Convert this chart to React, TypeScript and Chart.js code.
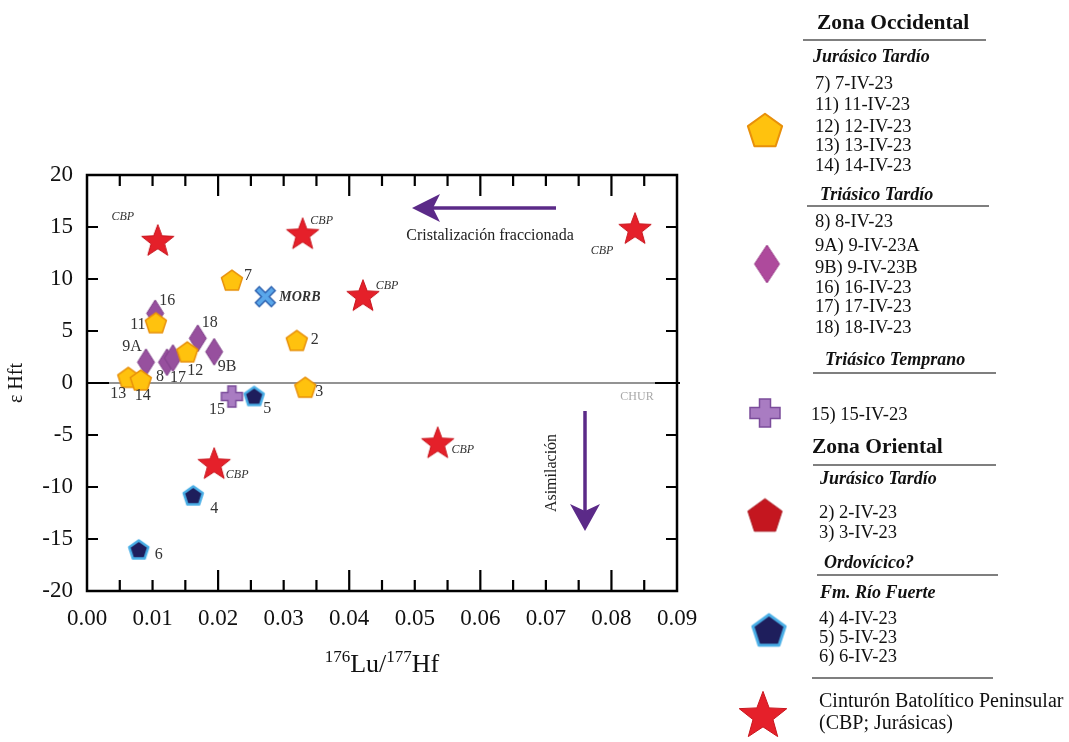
import { useEffect, useRef } from 'react';
import { Chart, registerables } from 'chart.js';

Chart.register(...registerables);

const FONT = "'Liberation Serif', 'Times New Roman', serif";

// ---------- DATA ----------
const jurOccLabels = ['7', '11', '12', '13', '14', '2', '3'];
const jurOccX = [0.0221, 0.0105, 0.0153, 0.0063, 0.0082, 0.0320, 0.0333];
const jurOccY = [9.9, 5.8, 3.0, 0.55, 0.3, 4.1, -0.4];

const triTarLabels = ['16', '9A', '8', '17', '18', '9B'];
const triTarX = [0.0104, 0.0090, 0.0122, 0.0131, 0.0169, 0.0194];
const triTarY = [6.7, 2.0, 2.0, 2.4, 4.3, 3.0];

const triTempLabels = ['15'];
const triTempX = [0.0221];
const triTempY = [-1.3];

const ordLabels = ['5', '4', '6'];
const ordX = [0.0255, 0.0162, 0.0079];
const ordY = [-1.25, -10.8, -16.0];

const cbpX = [0.0108, 0.0329, 0.0421, 0.0836, 0.0194, 0.0535];
const cbpY = [13.75, 14.4, 8.45, 14.9, -7.7, -5.7];

const morbX = [0.0272];
const morbY = [8.3];

const xMin = 0;
const xMax = 0.09;
const xStep = 0.01;
const yMin = -20;
const yMax = 20;
const yStep = 5;

// label placement (pixel offsets from the marker centre)
const labelOffsets: Record<string, [number, number]> = {
  '7': [16, -4], '11': [-18, 2], '12': [8, 19], '13': [-10, 17], '14': [2, 16],
  '2': [18, -1], '3': [14, 5], '16': [12, -13], '9A': [-14, -15], '8': [-7, 15],
  '17': [5, 20], '18': [12, -15], '9B': [13, 15], '15': [-15, 13], '5': [13, 13],
  '4': [21, 13], '6': [20, 5],
};
const cbpOffsets: [number, number][] = [[-35, -23], [19, -12], [24, -9], [-33, 23], [23, 12], [25, 8]];

// ---------- MARKERS ----------
function mk(w: number, h: number, draw: (ctx: CanvasRenderingContext2D, w: number, h: number) => void) {
  const c = document.createElement('canvas');
  c.width = w; c.height = h;
  const ctx = c.getContext('2d')!;
  draw(ctx, w, h);
  return c;
}
function pentagon(R: number, fill: string, stroke: string, lw: number) {
  const s = Math.ceil(2 * R + lw + 4);
  return mk(s, s, (ctx, w, h) => {
    const cx = w / 2, cy = h / 2 + 0.095 * R;
    ctx.beginPath();
    for (let i = 0; i < 5; i++) {
      const a = -Math.PI / 2 + (i * 2 * Math.PI) / 5;
      const x = cx + R * Math.cos(a), y = cy + R * Math.sin(a);
      if (i === 0) ctx.moveTo(x, y); else ctx.lineTo(x, y);
    }
    ctx.closePath();
    ctx.fillStyle = fill; ctx.fill();
    if (lw > 0) { ctx.lineWidth = lw; ctx.strokeStyle = stroke; ctx.lineJoin = 'round'; ctx.stroke(); }
  });
}
function star(R: number, fill: string, stroke: string) {
  const s = Math.ceil(2 * R + 4);
  return mk(s, s, (ctx, w, h) => {
    const cx = w / 2, cy = h / 2 + 0.095 * R;
    const r = R * 0.42;
    ctx.beginPath();
    for (let i = 0; i < 10; i++) {
      const a = -Math.PI / 2 + (i * Math.PI) / 5;
      const rr = i % 2 === 0 ? R : r;
      const x = cx + rr * Math.cos(a), y = cy + rr * Math.sin(a);
      if (i === 0) ctx.moveTo(x, y); else ctx.lineTo(x, y);
    }
    ctx.closePath();
    ctx.fillStyle = fill; ctx.fill();
    ctx.lineWidth = 1; ctx.strokeStyle = stroke; ctx.stroke();
  });
}
function diamond(dw: number, dh: number, fill: string, stroke: string) {
  return mk(dw + 4, dh + 4, (ctx, w, h) => {
    ctx.beginPath();
    ctx.moveTo(w / 2, 2); ctx.lineTo(w - 2, h / 2); ctx.lineTo(w / 2, h - 2); ctx.lineTo(2, h / 2);
    ctx.closePath();
    ctx.fillStyle = fill; ctx.fill();
    ctx.lineWidth = 1; ctx.strokeStyle = stroke; ctx.stroke();
  });
}
function plus(sw: number, sh: number, arm: number, fill: string, stroke: string) {
  return mk(sw + 4, sh + 4, (ctx, w, h) => {
    const cx = w / 2, cy = h / 2;
    const a = arm / 2;
    const hx = sw / 2, hy = sh / 2;
    ctx.beginPath();
    ctx.moveTo(cx - a, cy - hy); ctx.lineTo(cx + a, cy - hy); ctx.lineTo(cx + a, cy - a);
    ctx.lineTo(cx + hx, cy - a); ctx.lineTo(cx + hx, cy + a); ctx.lineTo(cx + a, cy + a);
    ctx.lineTo(cx + a, cy + hy); ctx.lineTo(cx - a, cy + hy); ctx.lineTo(cx - a, cy + a);
    ctx.lineTo(cx - hx, cy + a); ctx.lineTo(cx - hx, cy - a); ctx.lineTo(cx - a, cy - a);
    ctx.closePath();
    ctx.fillStyle = fill; ctx.fill();
    ctx.lineWidth = 1.5; ctx.strokeStyle = stroke; ctx.lineJoin = 'miter'; ctx.stroke();
  });
}
function xMark(size: number, fill: string, stroke: string) {
  return mk(size + 6, size + 6, (ctx, w, h) => {
    const cx = w / 2, cy = h / 2, r = size / 2;
    ctx.lineCap = 'butt';
    ctx.strokeStyle = stroke; ctx.lineWidth = 7;
    ctx.beginPath();
    ctx.moveTo(cx - r, cy - r); ctx.lineTo(cx + r, cy + r);
    ctx.moveTo(cx + r, cy - r); ctx.lineTo(cx - r, cy + r);
    ctx.stroke();
    ctx.strokeStyle = fill; ctx.lineWidth = 4;
    ctx.beginPath();
    ctx.moveTo(cx - r + 1, cy - r + 1); ctx.lineTo(cx + r - 1, cy + r - 1);
    ctx.moveTo(cx + r - 1, cy - r + 1); ctx.lineTo(cx - r + 1, cy + r - 1);
    ctx.stroke();
  });
}

const YEL_FILL = '#FFC20E';
const YEL_STROKE = '#E8900A';
const DIA_FILL = '#97509E';
const DIA_STROKE = '#7E3F88';
const CROSS_FILL = '#A97CC2';
const CROSS_STROKE = '#7B4C9B';
const NAVY_FILL = '#1E1E5C';
const NAVY_STROKE = '#49AEE6';
const STAR_FILL = '#E5202A';
const RED_PENT = '#C4161F';
const ARROW = '#5B2A88';

export default function App() {
  const ref = useRef<HTMLCanvasElement>(null);

  useEffect(() => {
    if (!ref.current) return;

    const mYel = pentagon(11, YEL_FILL, YEL_STROKE, 1.5);
    const mDia = diamond(17, 27, DIA_FILL, DIA_STROKE);
    const mCross = plus(21, 21, 8, CROSS_FILL, CROSS_STROKE);
    const mNavy = pentagon(10, NAVY_FILL, NAVY_STROKE, 2.5);
    const mStar = star(17, STAR_FILL, '#C8161E');
    const mMorb = xMark(17, '#5AA7EA', '#2F63B0');

    const lYel = pentagon(18, YEL_FILL, YEL_STROKE, 2);
    const lDia = diamond(25, 38, '#AE4A9C', '#9A3C8A');
    const lCross = plus(30, 28, 11, CROSS_FILL, CROSS_STROKE);
    const lRed = pentagon(18, RED_PENT, '#A8121A', 1);
    const lNavy = pentagon(17, NAVY_FILL, NAVY_STROKE, 3);
    const lStar = star(25, STAR_FILL, '#C8161E');

    const toPts = (xs: number[], ys: number[]) => xs.map((x, i) => ({ x, y: ys[i] }));

    const overlay = {
      id: 'overlay',
      beforeDatasetsDraw(chart: any) {
        const { ctx, chartArea: a, scales } = chart;
        const ys = scales.y;
        ctx.save();
        // CHUR line
        const y0 = ys.getPixelForValue(0);
        ctx.strokeStyle = '#6f6f6f';
        ctx.lineWidth = 1.6;
        ctx.beginPath(); ctx.moveTo(a.left, y0); ctx.lineTo(a.right, y0); ctx.stroke();
        ctx.fillStyle = '#a9a9a9';
        ctx.font = `12px ${FONT}`;
        ctx.textAlign = 'center'; ctx.textBaseline = 'middle';
        ctx.fillText('CHUR', a.right - 40, y0 + 14);

        // arrows
        ctx.strokeStyle = ARROW; ctx.fillStyle = ARROW; ctx.lineWidth = 3.5;
        const hy = 208;
        ctx.beginPath(); ctx.moveTo(556, hy); ctx.lineTo(432, hy); ctx.stroke();
        ctx.beginPath(); ctx.moveTo(412, hy); ctx.lineTo(440, hy - 14); ctx.lineTo(433, hy); ctx.lineTo(440, hy + 14); ctx.closePath(); ctx.fill();
        const vx = 585;
        ctx.beginPath(); ctx.moveTo(vx, 411); ctx.lineTo(vx, 512); ctx.stroke();
        ctx.beginPath(); ctx.moveTo(vx, 531); ctx.lineTo(vx - 15, 504); ctx.lineTo(vx, 511); ctx.lineTo(vx + 15, 504); ctx.closePath(); ctx.fill();

        ctx.fillStyle = '#222';
        ctx.font = `16px ${FONT}`;
        ctx.textAlign = 'center'; ctx.textBaseline = 'middle';
        ctx.fillText('Cristalización fraccionada', 490, 236);
        ctx.save();
        ctx.translate(552, 473); ctx.rotate(-Math.PI / 2);
        ctx.fillText('Asimilación', 0, 0);
        ctx.restore();
        ctx.restore();
      },
      afterDatasetsDraw(chart: any) {
        const { ctx, chartArea: a, scales } = chart;
        const xs = scales.x, ys = scales.y;
        ctx.save();
        // frame
        ctx.strokeStyle = '#000'; ctx.lineWidth = 2.5;
        ctx.strokeRect(a.left, a.top, a.right - a.left, a.bottom - a.top);
        // x tick marks (inside, top and bottom)
        ctx.lineWidth = 2.2;
        for (let k = 1; k < 18; k++) {
          const v = k * 0.005;
          const px = xs.getPixelForValue(v);
          const long = k % 4 === 0;
          const L = long ? 21 : 11;
          ctx.beginPath();
          ctx.moveTo(px, a.bottom); ctx.lineTo(px, a.bottom - L);
          ctx.moveTo(px, a.top); ctx.lineTo(px, a.top + L);
          ctx.stroke();
        }
        // y tick marks
        for (let v = yMin + yStep; v < yMax; v += yStep) {
          const py = ys.getPixelForValue(v);
          const L = v === 0 ? 22 : 11;
          ctx.beginPath();
          ctx.moveTo(a.left, py); ctx.lineTo(a.left + L, py);
          ctx.moveTo(a.right + (v === 0 ? 3 : 0), py); ctx.lineTo(a.right - L, py);
          ctx.stroke();
        }

        // point labels
        ctx.fillStyle = '#333';
        ctx.font = `16px ${FONT}`;
        ctx.textAlign = 'center'; ctx.textBaseline = 'middle';
        const put = (labels: string[], xv: number[], yv: number[]) => {
          labels.forEach((lb, i) => {
            const o = labelOffsets[lb];
            ctx.fillText(lb, xs.getPixelForValue(xv[i]) + o[0], ys.getPixelForValue(yv[i]) + o[1]);
          });
        };
        put(jurOccLabels, jurOccX, jurOccY);
        put(triTarLabels, triTarX, triTarY);
        put(triTempLabels, triTempX, triTempY);
        put(ordLabels, ordX, ordY);

        ctx.font = `italic 12px ${FONT}`;
        cbpX.forEach((xv, i) => {
          const o = cbpOffsets[i];
          ctx.fillText('CBP', xs.getPixelForValue(xv) + o[0], ys.getPixelForValue(cbpY[i]) + o[1]);
        });
        ctx.font = `bold italic 14px ${FONT}`;
        ctx.textAlign = 'left';
        ctx.fillText('MORB', xs.getPixelForValue(morbX[0]) + 14, ys.getPixelForValue(morbY[0]) + 1);

        // axis titles
        ctx.fillStyle = '#111';
        ctx.save();
        ctx.translate(17, (a.top + a.bottom) / 2);
        ctx.rotate(-Math.PI / 2);
        ctx.textAlign = 'center';
        ctx.font = `20px ${FONT}`;
        ctx.fillText('ε Hft', 0, 0);
        ctx.restore();

        // x title with superscripts
        const parts: [string, boolean][] = [['176', true], ['Lu/', false], ['177', true], ['Hf', false]];
        const big = `26px ${FONT}`, small = `17px ${FONT}`;
        let tw = 0;
        parts.forEach(([t, sup]) => { ctx.font = sup ? small : big; tw += ctx.measureText(t).width; });
        let cx = 382 - tw / 2;
        ctx.textAlign = 'left'; ctx.textBaseline = 'alphabetic';
        const base = 672;
        parts.forEach(([t, sup]) => {
          ctx.font = sup ? small : big;
          ctx.fillText(t, cx, sup ? base - 10 : base);
          cx += ctx.measureText(t).width;
        });

        // ---------- legend ----------
        ctx.fillStyle = '#111';
        ctx.textBaseline = 'middle';
        ctx.textAlign = 'left';
        const hdr = (t: string, x: number, y: number) => { ctx.font = `bold 21.5px ${FONT}`; ctx.fillText(t, x, y); };
        const sub = (t: string, x: number, y: number) => { ctx.font = `bold italic 18px ${FONT}`; ctx.fillText(t, x, y); };
        const item = (t: string, x: number, y: number, size = 18.5) => { ctx.font = `${size}px ${FONT}`; ctx.fillText(t, x, y); };
        const rule = (x1: number, x2: number, y: number) => {
          ctx.strokeStyle = '#555'; ctx.lineWidth = 1.5;
          ctx.beginPath(); ctx.moveTo(x1, y); ctx.lineTo(x2, y); ctx.stroke();
        };
        const icon = (c: HTMLCanvasElement, x: number, y: number) => ctx.drawImage(c, x - c.width / 2, y - c.height / 2);

        hdr('Zona Occidental', 817, 23);
        rule(803, 986, 40);
        sub('Jurásico Tardío', 813, 57);
        item('7) 7-IV-23', 815, 84);
        item('11) 11-IV-23', 815, 105);
        item('12) 12-IV-23', 815, 127);
        item('13) 13-IV-23', 815, 146);
        item('14) 14-IV-23', 815, 166);
        icon(lYel, 765, 130);

        sub('Triásico Tardío', 820, 195);
        rule(807, 989, 206);
        item('8) 8-IV-23', 815, 222);
        item('9A) 9-IV-23A', 815, 246);
        item('9B) 9-IV-23B', 815, 268);
        item('16) 16-IV-23', 815, 288);
        item('17) 17-IV-23', 815, 307);
        item('18) 18-IV-23', 815, 328);
        icon(lDia, 767, 264);

        sub('Triásico Temprano', 825, 360);
        rule(813, 996, 373);
        icon(lCross, 765, 413);
        item('15) 15-IV-23', 811, 415);

        hdr('Zona Oriental', 812, 447);
        rule(813, 996, 465);
        sub('Jurásico Tardío', 820, 479);
        icon(lRed, 765, 515);
        item('2) 2-IV-23', 819, 513);
        item('3) 3-IV-23', 819, 533);

        sub('Ordovícico?', 824, 563);
        rule(817, 998, 575);
        sub('Fm. Río Fuerte', 820, 593);
        icon(lNavy, 769, 630);
        item('4) 4-IV-23', 819, 619);
        item('5) 5-IV-23', 819, 638);
        item('6) 6-IV-23', 819, 657);

        rule(812, 993, 678);
        icon(lStar, 763, 714);
        item('Cinturón Batolítico Peninsular', 819, 702, 20);
        item('(CBP; Jurásicas)', 819, 724, 20);

        ctx.restore();
      },
    };

    const chart = new Chart(ref.current, {
      type: 'scatter',
      data: {
        datasets: [
          { label: 'Jurásico Tardío (Occ.)', data: toPts(jurOccX, jurOccY), pointStyle: mYel as any, order: 0 },
          { label: 'Triásico Tardío', data: toPts(triTarX, triTarY), pointStyle: mDia as any, order: 1 },
          { label: 'Triásico Temprano', data: toPts(triTempX, triTempY), pointStyle: mCross as any, order: 2 },
          { label: 'Ordovícico? Fm. Río Fuerte', data: toPts(ordX, ordY), pointStyle: mNavy as any, order: 3 },
          { label: 'CBP', data: toPts(cbpX, cbpY), pointStyle: mStar as any, order: 4 },
          { label: 'MORB', data: toPts(morbX, morbY), pointStyle: mMorb as any, order: 5 },
        ],
      },
      options: {
        responsive: false,
        animation: false,
        layout: { padding: { left: 0, right: 392, top: 175, bottom: 71 } },
        plugins: { legend: { display: false }, tooltip: { enabled: false }, title: { display: false } },
        scales: {
          x: {
            type: 'linear',
            min: xMin, max: xMax,
            grid: { display: false, drawTicks: false },
            border: { display: false },
            ticks: {
              stepSize: xStep,
              padding: 14,
              color: '#111',
              font: { family: FONT, size: 23 },
              callback: (v: any) => Number(v).toFixed(2),
            },
            afterFit: (s: any) => { s.height = 80; },
          },
          y: {
            type: 'linear',
            min: yMin, max: yMax,
            grid: { display: false, drawTicks: false },
            border: { display: false },
            ticks: {
              stepSize: yStep,
              padding: 14,
              color: '#111',
              font: { family: FONT, size: 23 },
            },
            afterFit: (s: any) => { s.width = 87; },
          },
        },
      },
      plugins: [overlay],
    });
    return () => chart.destroy();
  }, []);

  return (
    <div style={{ position: 'absolute', left: 0, top: 0, width: 1069, height: 742, background: '#fff' }}>
      <canvas ref={ref} width={1069} height={742} style={{ display: 'block' }} />
    </div>
  );
}
